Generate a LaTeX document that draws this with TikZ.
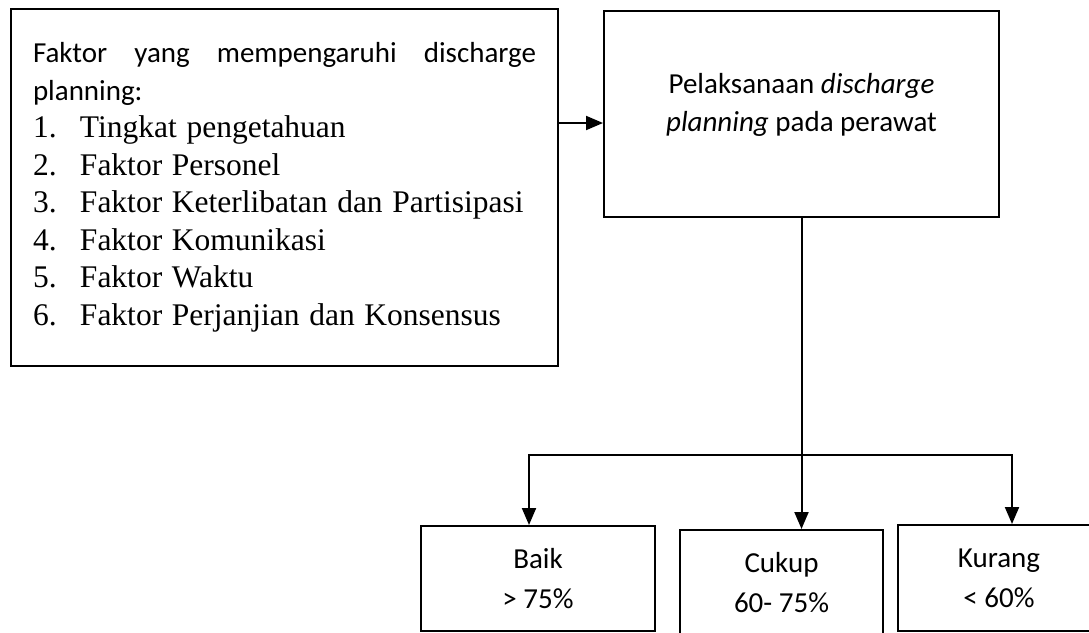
\documentclass[tikz,border=0pt]{standalone}
\usepackage{fontspec}
\setmainfont{Carlito}
\newfontfamily\tnr{Liberation Serif}
\usetikzlibrary{arrows.meta}
\newcommand\fitem[2]{{\tnr\fontsize{31.5}{37.5}\selectfont\makebox[47pt][l]{#1}#2}}
\begin{document}
\begin{tikzpicture}[x=1pt,y=-1pt,line width=2pt,
  box/.style={draw,line width=2pt,inner sep=0pt},
  arr/.style={-{Triangle[length=17pt,width=14pt]}},
  cal/.style={font=\fontsize{29}{38}\selectfont}]
\useasboundingbox (0,0) rectangle (1089,632);
\clip (0,0) rectangle (1089,632);
% left box
\node[box,anchor=north west,minimum width=547pt,minimum height=357pt,
  text width=503pt,align=left,inner xsep=22pt,
  font=\fontsize{29}{37.5}\selectfont] (lb) at (10,8) {%
\makebox[503pt][l]{Faktor\hfill yang\hfill mempengaruhi\hfill discharge}\\
planning:\\
\fitem{1.}{Tingkat pengetahuan}\\
\fitem{2.}{Faktor Personel}\\
\fitem{3.}{Faktor Keterlibatan dan Partisipasi}\\
\fitem{4.}{Faktor Komunikasi}\\
\fitem{5.}{Faktor Waktu}\\
\fitem{6.}{Faktor Perjanjian dan Konsensus}};
% right box
\node[box,minimum width=395pt,minimum height=206pt] (rb) at (801.5,114) {};
\node[cal,align=center] (rbt) at (801.5,105) {Pelaksanaan \textit{discharge}\\\textit{planning} pada perawat};
% bottom boxes
\node[box,cal,align=center,minimum width=234pt,minimum height=105pt,font=\fontsize{29}{40}\selectfont] (baik) at (538,578.5) {Baik\\> 75\%};
\node[box,cal,align=center,minimum width=203pt,minimum height=105pt,font=\fontsize{29}{40}\selectfont] (cukup) at (781.5,582.5) {Cukup\\60- 75\%};
\node[box,cal,align=center,minimum width=202pt,minimum height=106pt,font=\fontsize{29}{40}\selectfont] (kurang) at (999,578) {Kurang\\< 60\%};
% connectors
\coordinate (ay) at (0,123);
\draw[arr] (lb.east |- ay) -- (rb.west |- ay);
\draw[arr] (rb.south) -- (rb.south |- cukup.north);
\coordinate (jl) at (529,455);
\coordinate (jr) at (1012,455);
\draw[arr] (jr) -- (jl) -- (jl |- baik.north);
\draw[arr] (jl) -- (jr) -- (jr |- kurang.north);
\end{tikzpicture}
\end{document}
